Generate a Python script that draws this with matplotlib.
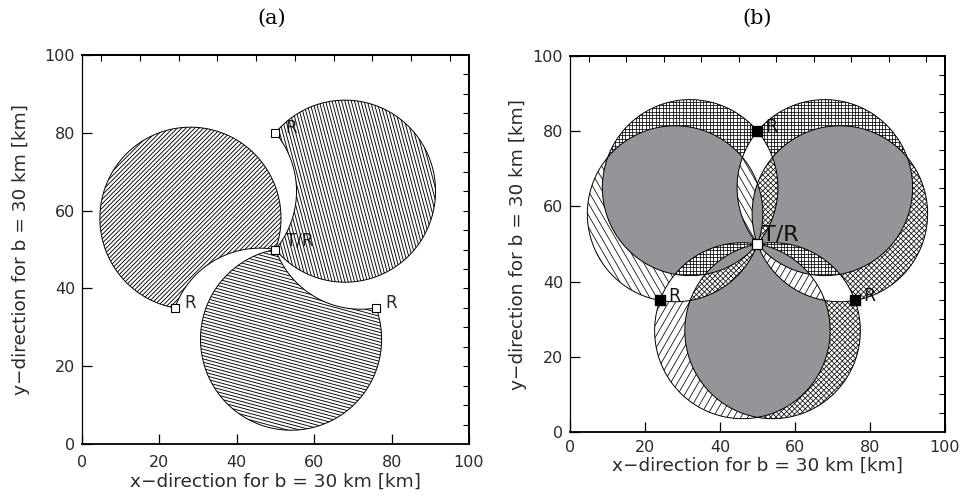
import numpy as np
import matplotlib
matplotlib.use("Agg")
import matplotlib.pyplot as plt
from matplotlib.collections import LineCollection
from matplotlib.patches import Polygon

# site positions [km]
tr_x, tr_y = 50.0, 50.0
rx_x = [50.0, 24.0, 76.0]
rx_y = [80.0, 35.0, 35.0]
# radius of the two circles through T/R and each receiver [km]
radius = 23.4

# panel (a): one crescent per receiver, hatch angle [deg] and spacing [km]
hatch_a_angle = [105, 45, 165]
hatch_a_step = 0.8

# panel (b): both crescents per receiver
hatch_b_first = [[0, 90], [120], [45, 135]]
hatch_b_second = [[0, 90], [60], [45, 135]]
hatch_b_step = [0.9, 1.6, 1.0]

grey = "#939598"
txt = "#2a2a2a"
xlabel = "x\u2212direction for b = 30 km [km]"
ylabel = "y\u2212direction for b = 30 km [km]"


def centres(i):
    dx, dy = rx_x[i] - tr_x, rx_y[i] - tr_y
    L = np.hypot(dx, dy)
    mx, my = tr_x + dx / 2, tr_y + dy / 2
    h = np.sqrt(radius**2 - (L / 2) ** 2)
    nx, ny = dy / L, -dx / L
    return (mx + h * nx, my + h * ny), (mx - h * nx, my - h * ny)


def arc(c, p0, p1, via, n=300):
    a0 = np.arctan2(p0[1] - c[1], p0[0] - c[0])
    a1 = np.arctan2(p1[1] - c[1], p1[0] - c[0])
    span = (a1 - a0) % (2 * np.pi)
    if (via - a0) % (2 * np.pi) > span:
        span -= 2 * np.pi
    t = a0 + np.linspace(0, span, n)
    return np.column_stack([c[0] + radius * np.cos(t), c[1] + radius * np.sin(t)])


def crescent(c1, c2, p, q):
    # part of disc c1 outside disc c2
    away = np.arctan2(c1[1] - c2[1], c1[0] - c2[0])
    return np.vstack([arc(c1, p, q, away), arc(c2, q, p, away)])


def hatch(ax, pts, angles, step, lw=0.55):
    for ang in angles:
        u = np.array([np.cos(np.radians(ang)), np.sin(np.radians(ang))])
        nv = np.array([-u[1], u[0]])
        segs = []
        for o in np.arange(-80, 80, step):
            c = np.array([50.0, 50.0]) + o * nv
            segs.append([c - 90 * u, c + 90 * u])
        lc = LineCollection(segs, colors="black", linewidths=lw, zorder=2)
        ax.add_collection(lc, autolim=False)
        lc.set_clip_path(Polygon(pts, closed=True, transform=ax.transData))


def frame(ax, pos, pad_x, pad_y):
    ax.set_position(pos)
    ax.set_xlim(0, 100)
    ax.set_ylim(0, 100)
    ax.set_xticks(range(0, 101, 20))
    ax.set_yticks(range(0, 101, 20))
    ax.tick_params(axis="both", direction="in", length=7, width=0.9,
                   labelsize=11.5, labelcolor=txt, top=False, right=False)
    ax.tick_params(axis="x", pad=pad_x)
    ax.tick_params(axis="y", pad=pad_y)
    sx = ax.secondary_xaxis("top")
    sx.set_xticks(np.arange(5, 100, 10))
    sx.tick_params(direction="in", length=4, width=0.8, labeltop=False)
    sy = ax.secondary_yaxis("right")
    sy.set_yticks(np.arange(5, 100, 5))
    sy.tick_params(direction="in", length=4, width=0.8, labelright=False)
    for a in (ax, sx, sy):
        for s in a.spines.values():
            s.set_linewidth(1.3)
    ax.spines["left"].set_linewidth(0.9)


fig = plt.figure(figsize=(9.62, 4.98), dpi=100)
ax1 = fig.add_axes([0.0852, 0.1084, 0.4023, 0.7811])
ax2 = fig.add_axes([0.5925, 0.1325, 0.3898, 0.755])

pieces = []
for i in range(3):
    ca, cb = centres(i)
    p, q = (tr_x, tr_y), (rx_x[i], rx_y[i])
    pieces.append((crescent(ca, cb, p, q), crescent(cb, ca, p, q)))

# panel (a)
for i in range(3):
    hatch(ax1, pieces[i][0], [hatch_a_angle[i]], hatch_a_step, lw=0.65)
    ax1.add_patch(Polygon(pieces[i][0], closed=True, fill=False,
                          edgecolor="black", lw=0.7, zorder=4))
ax1.plot(rx_x, rx_y, "s", ms=5.5, mfc="white", mec="black", mew=0.8, zorder=5)
ax1.plot([tr_x], [tr_y], "s", ms=5.5, mfc="white", mec="black", mew=0.8, zorder=5)
for x, y in zip(rx_x, rx_y):
    ax1.text(x + 2.5, y + 1.3, "R", fontsize=12, color=txt,
             ha="left", va="center", zorder=1)
ax1.text(tr_x + 2.8, tr_y + 2.2, "T/R", fontsize=12, color=txt,
         ha="left", va="center", zorder=1)

# panel (b)
for i in range(3):
    hatch(ax2, pieces[i][0], hatch_b_first[i], hatch_b_step[i])
    hatch(ax2, pieces[i][1], hatch_b_second[i], hatch_b_step[i])
for i in range(3):
    for j in range(i + 1, 3):
        for a in pieces[i]:
            for b in pieces[j]:
                g = Polygon(a, closed=True, facecolor=grey, edgecolor="none", zorder=3)
                ax2.add_patch(g)
                g.set_clip_path(Polygon(b, closed=True, transform=ax2.transData))
for i in range(3):
    for a in pieces[i]:
        ax2.add_patch(Polygon(a, closed=True, fill=False,
                              edgecolor="black", lw=0.7, zorder=4))
ax2.plot(rx_x, rx_y, "s", ms=6.5, mfc="black", mec="black", zorder=5)
ax2.plot([tr_x], [tr_y], "s", ms=6.5, mfc="white", mec="black", mew=0.9, zorder=5)
for x, y in zip(rx_x, rx_y):
    ax2.text(x + 2.2, y + 1.2, "R", fontsize=12.5, color="#111111",
             ha="left", va="center", zorder=6)
ax2.text(tr_x + 1.3, tr_y + 0.9, "T/R", fontsize=16, color="#111111",
         ha="left", va="baseline", zorder=6)

frame(ax1, [0.0852, 0.1084, 0.4023, 0.7811], 8, 5)
frame(ax2, [0.5925, 0.1325, 0.3898, 0.755], 6, 5)
for ax in (ax1, ax2):
    ax.set_xlabel(xlabel, fontsize=13.3, color=txt)
    ax.set_ylabel(ylabel, fontsize=13.3, color=txt)
ax1.xaxis.set_label_coords(0.5, -0.075)
ax1.yaxis.set_label_coords(-0.134, 0.5)
ax2.xaxis.set_label_coords(0.5, -0.065)
ax2.yaxis.set_label_coords(-0.115, 0.5)

fig.text(272 / 962, 1 - 18 / 498, "(a)", family="DejaVu Serif", fontsize=15,
         ha="center", va="center")
fig.text(757 / 962, 1 - 18 / 498, "(b)", family="DejaVu Serif", fontsize=15,
         ha="center", va="center")

fig.savefig("out.png", dpi=100)
